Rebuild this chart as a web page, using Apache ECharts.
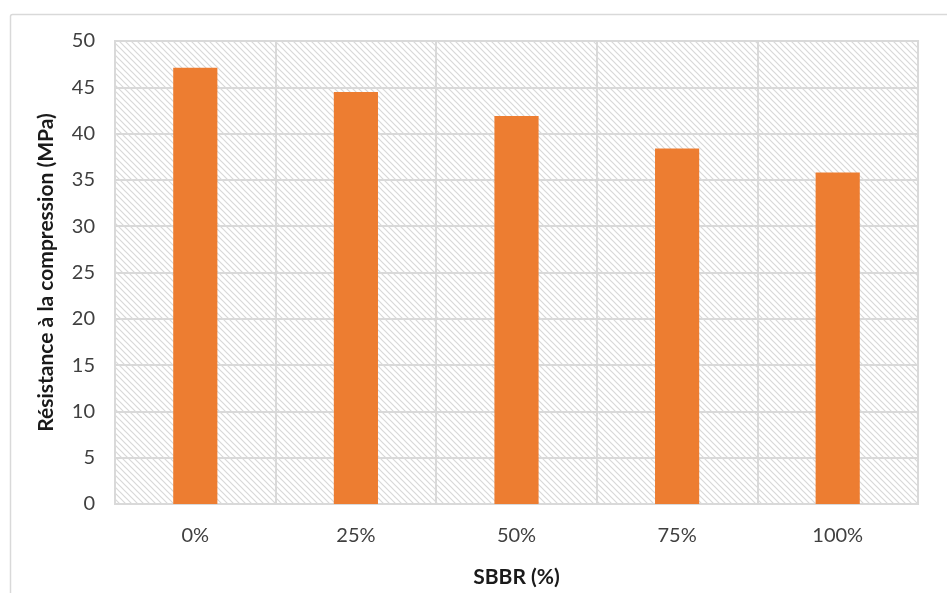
<!DOCTYPE html>
<html>
<head>
<meta charset="utf-8">
<script src="https://cdn.jsdelivr.net/npm/echarts@6/dist/echarts.min.js"></script>
<style>
  html, body { margin: 0; padding: 0; background: #fff; }
  #chart { width: 947px; height: 593px; }
</style>
</head>
<body>
<div id="chart"></div>
<script>
// Compressive strength by SBBR replacement level
const categories = ['0%', '25%', '50%', '75%', '100%'];
const strength = [47.1, 44.5, 41.9, 38.4, 35.8];
const yTicks = [0, 5, 10, 15, 20, 25, 30, 35, 40, 45, 50];

// Diagonal hatch fill for the plot area
function hatchPattern() {
  const size = 6;
  const c = document.createElement('canvas');
  c.width = size; c.height = size;
  const ctx = c.getContext('2d');
  ctx.fillStyle = '#ffffff';
  ctx.fillRect(0, 0, size, size);
  ctx.strokeStyle = '#d8d8d8';
  ctx.lineWidth = 1.2;
  ctx.beginPath();
  ctx.moveTo(-1, -1); ctx.lineTo(size + 1, size + 1);
  ctx.moveTo(-1, size - 1); ctx.lineTo(1, size + 1);
  ctx.moveTo(size - 1, -1); ctx.lineTo(size + 1, 1);
  ctx.stroke();
  return { image: c, repeat: 'repeat' };
}

const font = 'Lato, "Open Sans", sans-serif';
const chart = echarts.init(document.getElementById('chart'), null, { renderer: 'canvas' });

chart.setOption({
  animation: false,
  graphic: [{
    type: 'rect',
    left: 8, top: 12,
    shape: { width: 960, height: 600, r: 2 },
    style: { fill: 'none', stroke: '#d9d9d9', lineWidth: 1.5 },
    silent: true,
    z: -10
  }],
  grid: {
    left: 115, right: 29, top: 41, bottom: 89,
    show: true,
    backgroundColor: hatchPattern(),
    borderColor: '#d9d9d9',
    borderWidth: 2
  },
  xAxis: {
    type: 'category',
    data: categories,
    name: 'SBBR (%)',
    nameLocation: 'middle',
    nameGap: 73,
    nameTextStyle: { fontFamily: font, fontSize: 21, fontWeight: 'bold', color: '#1a1a1a', verticalAlign: 'middle' },
    axisLine: { show: true, lineStyle: { color: '#d9d9d9', width: 2 } },
    axisTick: { show: false },
    axisLabel: { fontFamily: font, fontSize: 20, color: '#404040', margin: 22 },
    splitLine: { show: true, lineStyle: { color: '#d9d9d9', width: 2 } }
  },
  yAxis: {
    type: 'value',
    min: yTicks[0],
    max: yTicks[yTicks.length - 1],
    interval: 5,
    name: 'Résistance à la compression (MPa)',
    nameLocation: 'middle',
    nameGap: 69,
    nameRotate: 90,
    nameTextStyle: { fontFamily: font, fontSize: 21, fontWeight: 'bold', color: '#1a1a1a', verticalAlign: 'middle' },
    axisLine: { show: false },
    axisTick: { show: false },
    axisLabel: { fontFamily: font, fontSize: 20, color: '#404040', margin: 20 },
    splitLine: { show: true, lineStyle: { color: '#d9d9d9', width: 2 } }
  },
  series: [{
    type: 'bar',
    data: strength,
    barWidth: '27.5%',
    itemStyle: { color: '#ed7d31' }
  }]
});
</script>
</body>
</html>
